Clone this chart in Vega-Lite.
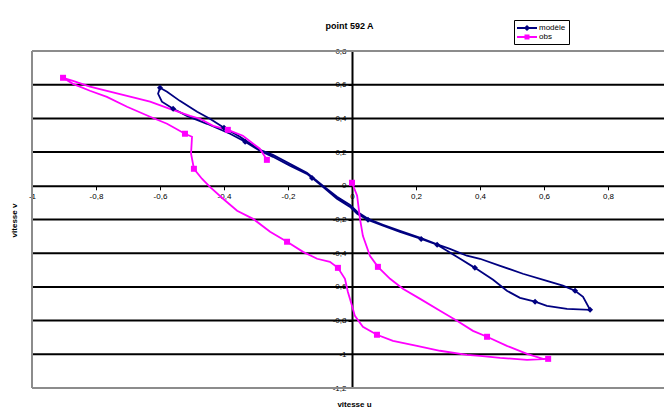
{
  "$schema": "https://vega.github.io/schema/vega-lite/v6.json",
  "width": 632,
  "height": 337,
  "autosize": {"type": "none"},
  "padding": {"left": 32, "top": 51, "right": 0, "bottom": 28},
  "background": "white",
  "config": {"view": {"stroke": null}, "font": "Liberation Sans", "axis": {"labelOverlap": false, "labelFlush": false, "labelBound": false}},
  "datasets": {
    "grid": [{"v": -1}, {"v": -0.8}, {"v": -0.6}, {"v": -0.4}, {"v": -0.2}, {"v": 0.2}, {"v": 0.4}, {"v": 0.6}],
    "frame": [{"v": 0.8}, {"v": -1.2}],
    "pts": [
      {"series": "modèle", "i": 1, "u": -0.600, "v": 0.582, "m": 1},
      {"series": "modèle", "i": 2, "u": -0.606, "v": 0.546, "m": 0},
      {"series": "modèle", "i": 3, "u": -0.594, "v": 0.499, "m": 0},
      {"series": "modèle", "i": 4, "u": -0.559, "v": 0.457, "m": 1},
      {"series": "modèle", "i": 5, "u": -0.516, "v": 0.415, "m": 0},
      {"series": "modèle", "i": 6, "u": -0.453, "v": 0.368, "m": 0},
      {"series": "modèle", "i": 7, "u": -0.381, "v": 0.309, "m": 0},
      {"series": "modèle", "i": 8, "u": -0.334, "v": 0.261, "m": 1},
      {"series": "modèle", "i": 9, "u": -0.288, "v": 0.208, "m": 0},
      {"series": "modèle", "i": 10, "u": -0.247, "v": 0.172, "m": 0},
      {"series": "modèle", "i": 11, "u": -0.194, "v": 0.119, "m": 0},
      {"series": "modèle", "i": 12, "u": -0.141, "v": 0.071, "m": 0},
      {"series": "modèle", "i": 13, "u": -0.125, "v": 0.047, "m": 1},
      {"series": "modèle", "i": 14, "u": -0.091, "v": -0.006, "m": 0},
      {"series": "modèle", "i": 15, "u": -0.047, "v": -0.077, "m": 0},
      {"series": "modèle", "i": 16, "u": -0.006, "v": -0.125, "m": 0},
      {"series": "modèle", "i": 17, "u": 0.016, "v": -0.166, "m": 0},
      {"series": "modèle", "i": 18, "u": 0.050, "v": -0.202, "m": 1},
      {"series": "modèle", "i": 19, "u": 0.097, "v": -0.237, "m": 0},
      {"series": "modèle", "i": 20, "u": 0.150, "v": -0.273, "m": 0},
      {"series": "modèle", "i": 21, "u": 0.216, "v": -0.315, "m": 1},
      {"series": "modèle", "i": 22, "u": 0.266, "v": -0.350, "m": 1},
      {"series": "modèle", "i": 23, "u": 0.297, "v": -0.386, "m": 0},
      {"series": "modèle", "i": 24, "u": 0.338, "v": -0.433, "m": 0},
      {"series": "modèle", "i": 25, "u": 0.384, "v": -0.487, "m": 1},
      {"series": "modèle", "i": 26, "u": 0.441, "v": -0.558, "m": 0},
      {"series": "modèle", "i": 27, "u": 0.484, "v": -0.623, "m": 0},
      {"series": "modèle", "i": 28, "u": 0.525, "v": -0.665, "m": 0},
      {"series": "modèle", "i": 29, "u": 0.572, "v": -0.688, "m": 1},
      {"series": "modèle", "i": 30, "u": 0.609, "v": -0.712, "m": 0},
      {"series": "modèle", "i": 31, "u": 0.672, "v": -0.730, "m": 0},
      {"series": "modèle", "i": 32, "u": 0.744, "v": -0.736, "m": 1},
      {"series": "modèle", "i": 33, "u": 0.722, "v": -0.659, "m": 0},
      {"series": "modèle", "i": 34, "u": 0.697, "v": -0.623, "m": 1},
      {"series": "modèle", "i": 35, "u": 0.659, "v": -0.593, "m": 0},
      {"series": "modèle", "i": 36, "u": 0.609, "v": -0.564, "m": 0},
      {"series": "modèle", "i": 37, "u": 0.534, "v": -0.522, "m": 0},
      {"series": "modèle", "i": 38, "u": 0.463, "v": -0.475, "m": 0},
      {"series": "modèle", "i": 39, "u": 0.400, "v": -0.433, "m": 0},
      {"series": "modèle", "i": 40, "u": 0.359, "v": -0.415, "m": 0},
      {"series": "modèle", "i": 41, "u": 0.306, "v": -0.374, "m": 0},
      {"series": "modèle", "i": 42, "u": 0.266, "v": -0.347, "m": 0},
      {"series": "modèle", "i": 43, "u": 0.216, "v": -0.311, "m": 0},
      {"series": "modèle", "i": 44, "u": 0.150, "v": -0.268, "m": 0},
      {"series": "modèle", "i": 45, "u": 0.097, "v": -0.231, "m": 0},
      {"series": "modèle", "i": 46, "u": 0.050, "v": -0.196, "m": 0},
      {"series": "modèle", "i": 47, "u": 0.016, "v": -0.154, "m": 0},
      {"series": "modèle", "i": 48, "u": -0.006, "v": -0.113, "m": 0},
      {"series": "modèle", "i": 49, "u": -0.047, "v": -0.065, "m": 0},
      {"series": "modèle", "i": 50, "u": -0.091, "v": 0.000, "m": 0},
      {"series": "modèle", "i": 51, "u": -0.141, "v": 0.077, "m": 0},
      {"series": "modèle", "i": 52, "u": -0.194, "v": 0.131, "m": 0},
      {"series": "modèle", "i": 53, "u": -0.247, "v": 0.184, "m": 0},
      {"series": "modèle", "i": 54, "u": -0.288, "v": 0.214, "m": 0},
      {"series": "modèle", "i": 55, "u": -0.350, "v": 0.291, "m": 0},
      {"series": "modèle", "i": 56, "u": -0.400, "v": 0.344, "m": 1},
      {"series": "modèle", "i": 57, "u": -0.444, "v": 0.398, "m": 0},
      {"series": "modèle", "i": 58, "u": -0.484, "v": 0.439, "m": 0},
      {"series": "modèle", "i": 59, "u": -0.538, "v": 0.504, "m": 0},
      {"series": "modèle", "i": 60, "u": -0.578, "v": 0.558, "m": 0},
      {"series": "modèle", "i": 61, "u": -0.600, "v": 0.582, "m": 0},
      {"series": "obs", "i": 1, "u": 0.000, "v": 0.018, "m": 1},
      {"series": "obs", "i": 2, "u": 0.016, "v": -0.059, "m": 0},
      {"series": "obs", "i": 3, "u": 0.025, "v": -0.196, "m": 0},
      {"series": "obs", "i": 4, "u": 0.034, "v": -0.297, "m": 0},
      {"series": "obs", "i": 5, "u": 0.056, "v": -0.415, "m": 0},
      {"series": "obs", "i": 6, "u": 0.081, "v": -0.481, "m": 1},
      {"series": "obs", "i": 7, "u": 0.119, "v": -0.552, "m": 0},
      {"series": "obs", "i": 8, "u": 0.159, "v": -0.611, "m": 0},
      {"series": "obs", "i": 9, "u": 0.213, "v": -0.671, "m": 0},
      {"series": "obs", "i": 10, "u": 0.275, "v": -0.742, "m": 0},
      {"series": "obs", "i": 11, "u": 0.328, "v": -0.801, "m": 0},
      {"series": "obs", "i": 12, "u": 0.378, "v": -0.861, "m": 0},
      {"series": "obs", "i": 13, "u": 0.422, "v": -0.896, "m": 1},
      {"series": "obs", "i": 14, "u": 0.484, "v": -0.950, "m": 0},
      {"series": "obs", "i": 15, "u": 0.547, "v": -0.997, "m": 0},
      {"series": "obs", "i": 16, "u": 0.597, "v": -1.027, "m": 0},
      {"series": "obs", "i": 17, "u": 0.613, "v": -1.027, "m": 1},
      {"series": "obs", "i": 18, "u": 0.547, "v": -1.033, "m": 0},
      {"series": "obs", "i": 19, "u": 0.463, "v": -1.021, "m": 0},
      {"series": "obs", "i": 20, "u": 0.400, "v": -1.009, "m": 0},
      {"series": "obs", "i": 21, "u": 0.359, "v": -1.003, "m": 0},
      {"series": "obs", "i": 22, "u": 0.275, "v": -0.979, "m": 0},
      {"series": "obs", "i": 23, "u": 0.203, "v": -0.950, "m": 0},
      {"series": "obs", "i": 24, "u": 0.128, "v": -0.920, "m": 0},
      {"series": "obs", "i": 25, "u": 0.078, "v": -0.884, "m": 1},
      {"series": "obs", "i": 26, "u": 0.034, "v": -0.837, "m": 0},
      {"series": "obs", "i": 27, "u": 0.009, "v": -0.772, "m": 0},
      {"series": "obs", "i": 28, "u": 0.000, "v": -0.712, "m": 0},
      {"series": "obs", "i": 29, "u": -0.013, "v": -0.629, "m": 0},
      {"series": "obs", "i": 30, "u": -0.022, "v": -0.552, "m": 0},
      {"series": "obs", "i": 31, "u": -0.044, "v": -0.487, "m": 1},
      {"series": "obs", "i": 32, "u": -0.069, "v": -0.451, "m": 0},
      {"series": "obs", "i": 33, "u": -0.109, "v": -0.433, "m": 0},
      {"series": "obs", "i": 34, "u": -0.153, "v": -0.392, "m": 0},
      {"series": "obs", "i": 35, "u": -0.203, "v": -0.332, "m": 1},
      {"series": "obs", "i": 36, "u": -0.256, "v": -0.273, "m": 0},
      {"series": "obs", "i": 37, "u": -0.309, "v": -0.196, "m": 0},
      {"series": "obs", "i": 38, "u": -0.359, "v": -0.148, "m": 0},
      {"series": "obs", "i": 39, "u": -0.403, "v": -0.077, "m": 0},
      {"series": "obs", "i": 40, "u": -0.444, "v": -0.006, "m": 0},
      {"series": "obs", "i": 41, "u": -0.469, "v": 0.042, "m": 0},
      {"series": "obs", "i": 42, "u": -0.494, "v": 0.101, "m": 1},
      {"series": "obs", "i": 43, "u": -0.503, "v": 0.190, "m": 0},
      {"series": "obs", "i": 44, "u": -0.500, "v": 0.291, "m": 0},
      {"series": "obs", "i": 45, "u": -0.522, "v": 0.309, "m": 1},
      {"series": "obs", "i": 46, "u": -0.578, "v": 0.368, "m": 0},
      {"series": "obs", "i": 47, "u": -0.631, "v": 0.410, "m": 0},
      {"series": "obs", "i": 48, "u": -0.703, "v": 0.469, "m": 0},
      {"series": "obs", "i": 49, "u": -0.766, "v": 0.528, "m": 0},
      {"series": "obs", "i": 50, "u": -0.819, "v": 0.564, "m": 0},
      {"series": "obs", "i": 51, "u": -0.872, "v": 0.605, "m": 0},
      {"series": "obs", "i": 52, "u": -0.903, "v": 0.641, "m": 1},
      {"series": "obs", "i": 53, "u": -0.872, "v": 0.623, "m": 0},
      {"series": "obs", "i": 54, "u": -0.819, "v": 0.588, "m": 0},
      {"series": "obs", "i": 55, "u": -0.766, "v": 0.564, "m": 0},
      {"series": "obs", "i": 56, "u": -0.703, "v": 0.534, "m": 0},
      {"series": "obs", "i": 57, "u": -0.631, "v": 0.499, "m": 0},
      {"series": "obs", "i": 58, "u": -0.569, "v": 0.457, "m": 0},
      {"series": "obs", "i": 59, "u": -0.506, "v": 0.415, "m": 0},
      {"series": "obs", "i": 60, "u": -0.475, "v": 0.398, "m": 0},
      {"series": "obs", "i": 61, "u": -0.434, "v": 0.356, "m": 0},
      {"series": "obs", "i": 62, "u": -0.388, "v": 0.332, "m": 1},
      {"series": "obs", "i": 63, "u": -0.341, "v": 0.297, "m": 0},
      {"series": "obs", "i": 64, "u": -0.288, "v": 0.220, "m": 0},
      {"series": "obs", "i": 65, "u": -0.266, "v": 0.154, "m": 1}
    ]
  },
  "resolve": {"scale": {"shape": "independent", "color": "independent"}, "axis": {"x": "independent"}},
  "layer": [
    {
      "data": {"name": "grid"},
      "mark": {"type": "rule", "color": "#000", "strokeWidth": 2},
      "encoding": {
        "y": {"field": "v", "type": "quantitative", "scale": {"domain": [-1.2, 0.8], "nice": false, "zero": false}}
      }
    },
    {
      "data": {"name": "frame"},
      "mark": {"type": "rule", "color": "#8c8c8c", "strokeWidth": 2},
      "encoding": {
        "y": {"field": "v", "type": "quantitative", "scale": {"domain": [-1.2, 0.8], "nice": false, "zero": false}}
      }
    },
    {
      "data": {"name": "frame"},
      "mark": {"type": "rule", "color": "#8c8c8c", "strokeWidth": 2},
      "encoding": {
        "x": {
          "datum": -1, "type": "quantitative",
          "scale": {"domain": [-1, 0.975], "nice": false, "zero": false},
          "axis": {
            "orient": "top", "domain": false, "ticks": false, "labels": false, "grid": false,
            "title": "point 592 A", "titleFontSize": 9, "titleFont": "Liberation Sans", "titleFontWeight": "bold", "titleColor": "#000",
            "titleX": 317, "titleY": -26, "titleAlign": "center", "titleBaseline": "middle"
          }
        }
      }
    },
    {
      "data": {"name": "pts"},
      "mark": {"type": "line", "strokeWidth": 1.8, "interpolate": "linear"},
      "encoding": {
        "x": {
          "field": "u", "type": "quantitative",
          "scale": {"domain": [-1, 0.975], "nice": false, "zero": false},
          "axis": {
            "orient": "bottom", "offset": -202.2, "tickCount": 30,
            "values": [-1, -0.8, -0.6, -0.4, -0.2, 0, 0.2, 0.4, 0.6, 0.8],
            "labelExpr": "replace('' + datum.value, '.', ',')",
            "grid": false, "domainColor": "#000", "domainWidth": 2,
            "tickColor": "#000", "tickSize": 4, "tickWidth": 1,
            "labelFontSize": 8, "labelFont": "Liberation Sans", "labelColor": "#000", "labelPadding": 3,
            "labelFlush": false, "labelOverlap": false, "labelBound": false,
            "title": "vitesse u", "titleFontSize": 8, "titleFont": "Liberation Sans", "titleFontWeight": "bold", "titleColor": "#000",
            "titleX": 322, "titleY": 219, "titleAlign": "center", "titleBaseline": "middle", "zindex": 0
          }
        },
        "y": {
          "field": "v", "type": "quantitative",
          "scale": {"domain": [-1.2, 0.8], "nice": false, "zero": false},
          "axis": {
            "orient": "left", "offset": -320, "tickCount": 30,
            "values": [-1.2, -1, -0.8, -0.6, -0.4, -0.2, 0, 0.2, 0.4, 0.6, 0.8],
            "labelExpr": "replace('' + datum.value, '.', ',')",
            "grid": false, "domainColor": "#000", "domainWidth": 2,
            "tickColor": "#000", "tickSize": 4, "tickWidth": 1,
            "labelFontSize": 8, "labelFont": "Liberation Sans", "labelColor": "#000", "labelPadding": 2,
            "labelFlush": false, "labelOverlap": false, "labelBound": false,
            "title": "vitesse v", "titleFontSize": 8, "titleFont": "Liberation Sans", "titleFontWeight": "bold", "titleColor": "#000",
            "titleX": -338, "titleY": 169, "titleAngle": -90, "titleAlign": "center", "titleBaseline": "middle", "zindex": 0
          }
        },
        "color": {"field": "series", "type": "nominal", "scale": {"domain": ["modèle", "obs"], "range": ["#000080", "#FF00FF"]}, "legend": null},
        "order": {"field": "i", "type": "quantitative"}
      }
    },
    {
      "data": {"name": "pts"},
      "transform": [{"filter": "datum.m == 1"}],
      "mark": {"type": "point", "filled": true, "opacity": 1, "size": 36},
      "encoding": {
        "x": {"field": "u", "type": "quantitative", "scale": {"domain": [-1, 0.975], "nice": false, "zero": false}, "axis": null},
        "y": {"field": "v", "type": "quantitative", "scale": {"domain": [-1.2, 0.8], "nice": false, "zero": false}},
        "color": {"field": "series", "type": "nominal", "scale": {"domain": ["modèle", "obs"], "range": ["#000080", "#FF00FF"]}, "legend": null},
        "shape": {"field": "series", "type": "nominal", "scale": {"domain": ["modèle", "obs"], "range": ["diamond", "square"]}, "legend": null}
      }
    },
    {
      "data": {"name": "pts"},
      "transform": [{"filter": "datum.m == 1"}],
      "mark": {"type": "point", "filled": true, "opacity": 0},
      "encoding": {
        "x": {"field": "u", "type": "quantitative", "scale": {"domain": [-1, 0.975], "nice": false, "zero": false}, "axis": null},
        "y": {"field": "v", "type": "quantitative", "scale": {"domain": [-1.2, 0.8], "nice": false, "zero": false}},
        "color": {
          "field": "series", "type": "nominal",
          "scale": {"domain": ["modèle", "obs"], "range": ["#000080", "#FF00FF"]},
          "legend": {"title": null, "orient": "none", "legendX": 482, "legendY": -31, "strokeColor": "#000", "fillColor": "#fff", "padding": 3, "labelFontSize": 8, "labelFont": "Liberation Sans", "labelColor": "#000", "symbolSize": 100, "symbolOpacity": 1, "rowPadding": 0, "labelOffset": 12, "symbolStrokeWidth": 0}
        },
        "shape": {
          "field": "series", "type": "nominal",
          "scale": {"domain": ["modèle", "obs"], "range": ["M-1,-0.2H3V0.2H-1Z M1,-0.62L1.62,0L1,0.62L0.38,0Z", "M-1,-0.2H3V0.2H-1Z M0.5,-0.5H1.5V0.5H0.5Z"]},
          "legend": {"title": null, "orient": "none", "legendX": 482, "legendY": -31, "strokeColor": "#000", "fillColor": "#fff", "padding": 3, "labelFontSize": 8, "labelFont": "Liberation Sans", "labelColor": "#000", "symbolSize": 100, "symbolOpacity": 1, "rowPadding": 0, "labelOffset": 12, "symbolStrokeWidth": 0}
        }
      }
    }
  ]
}
